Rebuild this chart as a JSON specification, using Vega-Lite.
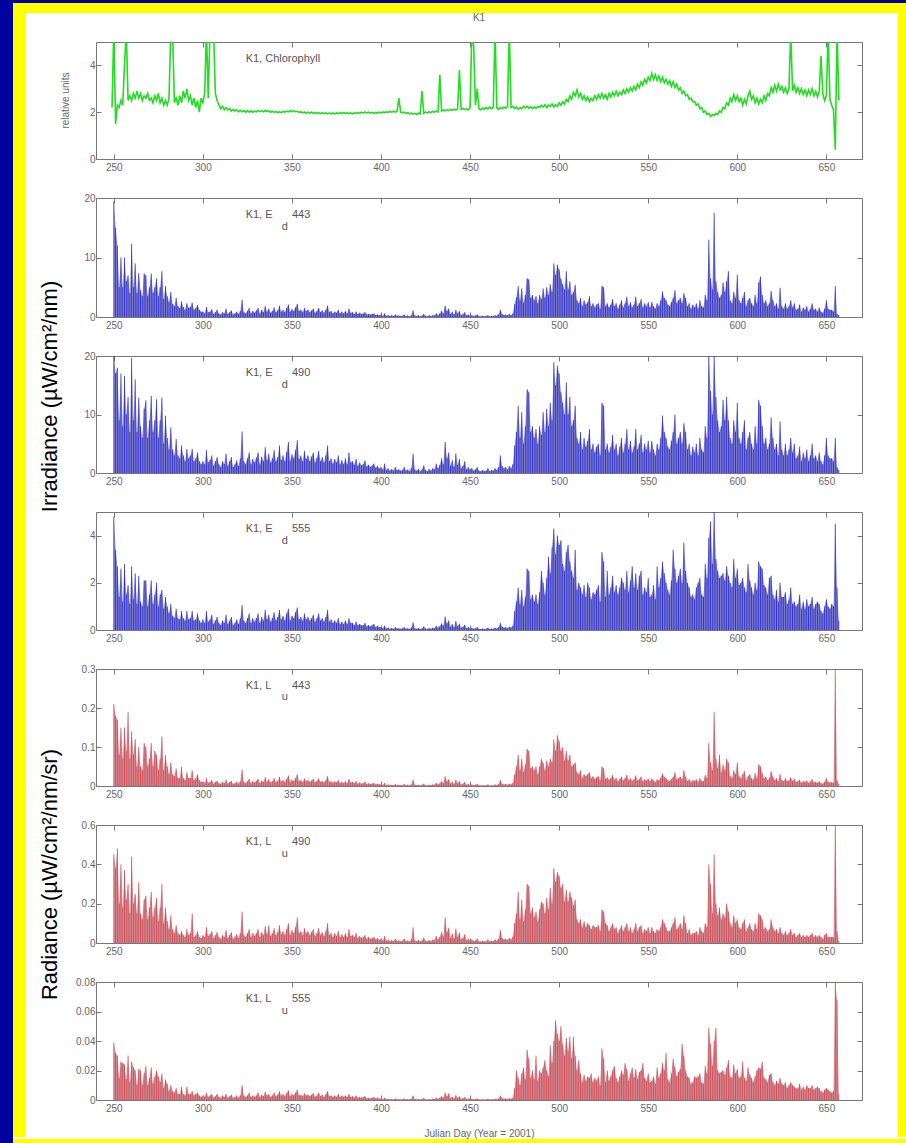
{
"$schema":"https://vega.github.io/schema/vega-lite/v6.json",
"background":"#ffffff",
"padding":0,
"config":{
 "font":"Liberation Sans",
 "view":{"stroke":"#777","strokeWidth":1},
 "axis":{"domain":false,"grid":false,"tickSize":-5,"tickColor":"#777","tickWidth":1,"labelColor":"#666","labelFontSize":10,"labelFont":"Liberation Sans","titleFont":"Liberation Sans","titleFontWeight":"normal"},
 "axisX":{"labelPadding":8},
 "axisY":{"labelPadding":6}
},
"datasets":{
"ir":[
{"d":250,"a":19.4,"b":20,"c":4.8,"e":0.21,"f":0.45,"g":0.039},
{"d":251,"a":15,"b":17,"c":3.4,"e":0.18,"f":0.38,"g":0.032},
{"d":252,"a":12,"b":18,"c":2.7,"e":0.17,"f":0.48,"g":0.03},
{"d":253,"a":5,"b":9,"c":1.4,"e":0.08,"f":0.2,"g":0.015},
{"d":254,"a":10,"b":17,"c":2.6,"e":0.15,"f":0.4,"g":0.026},
{"d":255,"a":5,"b":8,"c":1.2,"e":0.07,"f":0.18,"g":0.025},
{"d":256,"a":10,"b":16.6,"c":2.8,"e":0.15,"f":0.37,"g":0.024},
{"d":257,"a":6,"b":10,"c":1.5,"e":0.09,"f":0.22,"g":0.014},
{"d":258,"a":7,"b":13,"c":1.9,"e":0.19,"f":0.3,"g":0.03},
{"d":259,"a":4,"b":7,"c":1.1,"e":0.07,"f":0.15,"g":0.012},
{"d":260,"a":12.3,"b":19.7,"c":2.7,"e":0.14,"f":0.44,"g":0.026},
{"d":261,"a":5,"b":9,"c":1.3,"e":0.08,"f":0.2,"g":0.022},
{"d":262,"a":9,"b":16,"c":2.4,"e":0.12,"f":0.25,"g":0.02},
{"d":263,"a":4,"b":7,"c":1.1,"e":0.05,"f":0.15,"g":0.01},
{"d":264,"a":7.4,"b":12.9,"c":2.3,"e":0.1,"f":0.31,"g":0.021},
{"d":265,"a":4.5,"b":8,"c":1.2,"e":0.05,"f":0.15,"g":0.02},
{"d":266,"a":3.5,"b":6,"c":1,"e":0.04,"f":0.12,"g":0.01},
{"d":267,"a":7.3,"b":11,"c":2.1,"e":0.11,"f":0.22,"g":0.018},
{"d":268,"a":7,"b":12.4,"c":2.1,"e":0.1,"f":0.24,"g":0.023},
{"d":269,"a":3.5,"b":6,"c":1,"e":0.05,"f":0.12,"g":0.01},
{"d":270,"a":5,"b":9,"c":1.5,"e":0.07,"f":0.18,"g":0.015},
{"d":271,"a":7.3,"b":13.2,"c":2.1,"e":0.11,"f":0.26,"g":0.022},
{"d":272,"a":4,"b":7,"c":1.1,"e":0.05,"f":0.13,"g":0.011},
{"d":273,"a":5,"b":9,"c":1.5,"e":0.09,"f":0.18,"g":0.016},
{"d":274,"a":6.5,"b":12.6,"c":2,"e":0.08,"f":0.23,"g":0.02},
{"d":275,"a":3.5,"b":6,"c":1,"e":0.04,"f":0.11,"g":0.016},
{"d":276,"a":5,"b":9,"c":1.5,"e":0.07,"f":0.18,"g":0.012},
{"d":277,"a":7.7,"b":12.9,"c":1.7,"e":0.127,"f":0.3,"g":0.018},
{"d":278,"a":3,"b":5,"c":0.9,"e":0.04,"f":0.1,"g":0.008},
{"d":279,"a":5.2,"b":9.8,"c":1.4,"e":0.08,"f":0.18,"g":0.014},
{"d":280,"a":3.5,"b":6,"c":1,"e":0.05,"f":0.11,"g":0.011},
{"d":281,"a":2.5,"b":4,"c":0.7,"e":0.03,"f":0.07,"g":0.006},
{"d":282,"a":4.2,"b":7.8,"c":1.1,"e":0.06,"f":0.14,"g":0.01},
{"d":283,"a":2.2,"b":4,"c":0.6,"e":0.03,"f":0.07,"g":0.006},
{"d":284,"a":1.8,"b":3,"c":0.5,"e":0.025,"f":0.05,"g":0.005},
{"d":285,"a":3.2,"b":5.8,"c":0.9,"e":0.045,"f":0.09,"g":0.008},
{"d":286,"a":1.8,"b":3,"c":0.5,"e":0.02,"f":0.05,"g":0.004},
{"d":287,"a":1.5,"b":2.5,"c":0.45,"e":0.02,"f":0.04,"g":0.004},
{"d":288,"a":2.6,"b":4.7,"c":0.8,"e":0.05,"f":0.06,"g":0.009},
{"d":289,"a":1.7,"b":3,"c":0.5,"e":0.02,"f":0.04,"g":0.004},
{"d":290,"a":1.2,"b":2,"c":0.4,"e":0.015,"f":0.03,"g":0.003},
{"d":291,"a":2.3,"b":4.1,"c":0.8,"e":0.035,"f":0.07,"g":0.009},
{"d":292,"a":1.5,"b":2.5,"c":0.45,"e":0.02,"f":0.04,"g":0.004},
{"d":293,"a":1.7,"b":3,"c":0.5,"e":0.02,"f":0.05,"g":0.004},
{"d":294,"a":2.4,"b":4.1,"c":0.8,"e":0.04,"f":0.15,"g":0.006},
{"d":295,"a":1.2,"b":2,"c":0.4,"e":0.015,"f":0.03,"g":0.003},
{"d":296,"a":1.5,"b":2.5,"c":0.45,"e":0.02,"f":0.04,"g":0.004},
{"d":297,"a":2,"b":3.5,"c":0.7,"e":0.03,"f":0.06,"g":0.005},
{"d":298,"a":1.2,"b":2,"c":0.4,"e":0.015,"f":0.03,"g":0.003},
{"d":299,"a":0.9,"b":1.5,"c":0.3,"e":0.01,"f":0.025,"g":0.002},
{"d":300,"a":0.9,"b":2,"c":0.45,"e":0.01,"f":0.04,"g":0.003},
{"d":301,"a":0.6,"b":1.5,"c":0.3,"e":0.007,"f":0.03,"g":0.002},
{"d":302,"a":1.7,"b":3.9,"c":0.8,"e":0.02,"f":0.08,"g":0.005},
{"d":303,"a":0.8,"b":1.8,"c":0.35,"e":0.008,"f":0.035,"g":0.002},
{"d":304,"a":0.9,"b":2.2,"c":0.45,"e":0.01,"f":0.045,"g":0.003},
{"d":305,"a":1.3,"b":3,"c":0.65,"e":0.015,"f":0.06,"g":0.004},
{"d":306,"a":0.5,"b":1.2,"c":0.25,"e":0.006,"f":0.025,"g":0.0015},
{"d":307,"a":0.8,"b":2,"c":0.4,"e":0.01,"f":0.04,"g":0.0025},
{"d":308,"a":1.2,"b":2.7,"c":0.55,"e":0.013,"f":0.055,"g":0.004},
{"d":309,"a":0.6,"b":1.5,"c":0.3,"e":0.007,"f":0.03,"g":0.002},
{"d":310,"a":0.4,"b":1,"c":0.2,"e":0.005,"f":0.02,"g":0.0015},
{"d":311,"a":0.8,"b":2,"c":0.4,"e":0.01,"f":0.04,"g":0.003},
{"d":312,"a":0.6,"b":1.5,"c":0.3,"e":0.007,"f":0.03,"g":0.002},
{"d":313,"a":1.4,"b":3.3,"c":0.65,"e":0.016,"f":0.065,"g":0.004},
{"d":314,"a":0.5,"b":1.2,"c":0.25,"e":0.006,"f":0.025,"g":0.0015},
{"d":315,"a":0.8,"b":2,"c":0.4,"e":0.01,"f":0.04,"g":0.0025},
{"d":316,"a":1.1,"b":2.7,"c":0.55,"e":0.013,"f":0.055,"g":0.0035},
{"d":317,"a":0.4,"b":1,"c":0.2,"e":0.005,"f":0.02,"g":0.0015},
{"d":318,"a":0.6,"b":1.5,"c":0.3,"e":0.007,"f":0.03,"g":0.002},
{"d":319,"a":0.9,"b":2.2,"c":0.45,"e":0.011,"f":0.045,"g":0.003},
{"d":320,"a":0.5,"b":1.2,"c":0.25,"e":0.006,"f":0.025,"g":0.0015},
{"d":321,"a":1,"b":2.5,"c":0.5,"e":0.012,"f":0.05,"g":0.003},
{"d":322,"a":2.9,"b":7.1,"c":1.05,"e":0.042,"f":0.16,"g":0.01},
{"d":323,"a":0.8,"b":2,"c":0.4,"e":0.01,"f":0.04,"g":0.003},
{"d":324,"a":0.6,"b":1.5,"c":0.3,"e":0.007,"f":0.03,"g":0.002},
{"d":325,"a":1,"b":2.5,"c":0.5,"e":0.012,"f":0.05,"g":0.003},
{"d":326,"a":1.5,"b":3.5,"c":0.7,"e":0.018,"f":0.07,"g":0.005},
{"d":327,"a":0.6,"b":1.5,"c":0.3,"e":0.007,"f":0.03,"g":0.002},
{"d":328,"a":1,"b":2.4,"c":0.5,"e":0.012,"f":0.05,"g":0.003},
{"d":329,"a":0.7,"b":1.8,"c":0.35,"e":0.009,"f":0.035,"g":0.002},
{"d":330,"a":1.1,"b":2.6,"c":0.5,"e":0.013,"f":0.05,"g":0.003},
{"d":331,"a":1.5,"b":3.5,"c":0.7,"e":0.018,"f":0.07,"g":0.005},
{"d":332,"a":0.6,"b":1.5,"c":0.3,"e":0.007,"f":0.03,"g":0.002},
{"d":333,"a":1.2,"b":2.8,"c":0.55,"e":0.014,"f":0.055,"g":0.0035},
{"d":334,"a":0.8,"b":2,"c":0.4,"e":0.01,"f":0.04,"g":0.0025},
{"d":335,"a":1.8,"b":4.4,"c":0.85,"e":0.022,"f":0.085,"g":0.0055},
{"d":336,"a":0.9,"b":2.2,"c":0.45,"e":0.011,"f":0.045,"g":0.003},
{"d":337,"a":1.4,"b":3.3,"c":0.65,"e":0.017,"f":0.09,"g":0.004},
{"d":338,"a":0.7,"b":1.8,"c":0.35,"e":0.009,"f":0.035,"g":0.002},
{"d":339,"a":1,"b":2.5,"c":0.5,"e":0.012,"f":0.05,"g":0.003},
{"d":340,"a":1.6,"b":3.9,"c":0.75,"e":0.02,"f":0.075,"g":0.005},
{"d":341,"a":0.8,"b":2,"c":0.4,"e":0.01,"f":0.04,"g":0.0025},
{"d":342,"a":1.1,"b":2.7,"c":0.55,"e":0.013,"f":0.055,"g":0.0035},
{"d":343,"a":1.9,"b":4.7,"c":0.85,"e":0.024,"f":0.09,"g":0.006},
{"d":344,"a":0.9,"b":2.2,"c":0.45,"e":0.011,"f":0.045,"g":0.003},
{"d":345,"a":1.2,"b":3,"c":0.6,"e":0.015,"f":0.06,"g":0.004},
{"d":346,"a":0.8,"b":2,"c":0.4,"e":0.01,"f":0.04,"g":0.0025},
{"d":347,"a":1.5,"b":3.6,"c":0.7,"e":0.018,"f":0.07,"g":0.0045},
{"d":348,"a":2.1,"b":5.3,"c":0.9,"e":0.027,"f":0.1,"g":0.0065},
{"d":349,"a":0.9,"b":2.1,"c":0.4,"e":0.01,"f":0.04,"g":0.0025},
{"d":350,"a":1.3,"b":3.2,"c":0.6,"e":0.016,"f":0.065,"g":0.004},
{"d":351,"a":1,"b":2.5,"c":0.5,"e":0.012,"f":0.05,"g":0.003},
{"d":352,"a":1.6,"b":3.9,"c":0.75,"e":0.02,"f":0.08,"g":0.005},
{"d":353,"a":2.2,"b":5.6,"c":0.95,"e":0.03,"f":0.13,"g":0.007},
{"d":354,"a":1,"b":2.4,"c":0.45,"e":0.012,"f":0.05,"g":0.003},
{"d":355,"a":1.2,"b":3,"c":0.55,"e":0.015,"f":0.06,"g":0.0035},
{"d":356,"a":0.8,"b":2,"c":0.4,"e":0.01,"f":0.04,"g":0.0025},
{"d":357,"a":1.5,"b":3.8,"c":0.7,"e":0.019,"f":0.075,"g":0.0045},
{"d":358,"a":1,"b":2.4,"c":0.45,"e":0.012,"f":0.05,"g":0.003},
{"d":359,"a":1.2,"b":3,"c":0.55,"e":0.015,"f":0.06,"g":0.0035},
{"d":360,"a":0.8,"b":2,"c":0.4,"e":0.01,"f":0.04,"g":0.0025},
{"d":361,"a":1.1,"b":2.8,"c":0.5,"e":0.014,"f":0.055,"g":0.0035},
{"d":362,"a":1.4,"b":3.5,"c":0.65,"e":0.018,"f":0.07,"g":0.0045},
{"d":363,"a":0.7,"b":1.8,"c":0.35,"e":0.009,"f":0.035,"g":0.002},
{"d":364,"a":1,"b":2.6,"c":0.5,"e":0.013,"f":0.05,"g":0.003},
{"d":365,"a":1.5,"b":3.8,"c":0.7,"e":0.019,"f":0.075,"g":0.005},
{"d":366,"a":0.8,"b":2,"c":0.4,"e":0.01,"f":0.04,"g":0.0025},
{"d":367,"a":1.1,"b":2.7,"c":0.5,"e":0.013,"f":0.055,"g":0.0035},
{"d":368,"a":0.7,"b":1.8,"c":0.35,"e":0.009,"f":0.035,"g":0.002},
{"d":369,"a":1.2,"b":3,"c":0.55,"e":0.015,"f":0.06,"g":0.004},
{"d":370,"a":1.9,"b":4.7,"c":0.85,"e":0.025,"f":0.1,"g":0.006},
{"d":371,"a":0.8,"b":2,"c":0.35,"e":0.01,"f":0.04,"g":0.0025},
{"d":372,"a":1,"b":2.5,"c":0.45,"e":0.012,"f":0.05,"g":0.003},
{"d":373,"a":0.6,"b":1.6,"c":0.3,"e":0.008,"f":0.03,"g":0.002},
{"d":374,"a":0.9,"b":2.4,"c":0.4,"e":0.012,"f":0.05,"g":0.003},
{"d":375,"a":0.7,"b":1.8,"c":0.3,"e":0.009,"f":0.035,"g":0.002},
{"d":376,"a":1.2,"b":3,"c":0.5,"e":0.015,"f":0.06,"g":0.004},
{"d":377,"a":0.6,"b":1.5,"c":0.25,"e":0.007,"f":0.03,"g":0.002},
{"d":378,"a":0.9,"b":2.2,"c":0.35,"e":0.011,"f":0.045,"g":0.003},
{"d":379,"a":0.6,"b":1.5,"c":0.25,"e":0.007,"f":0.03,"g":0.002},
{"d":380,"a":1,"b":2.5,"c":0.4,"e":0.012,"f":0.05,"g":0.003},
{"d":381,"a":0.6,"b":1.5,"c":0.25,"e":0.007,"f":0.03,"g":0.002},
{"d":382,"a":1.4,"b":3.5,"c":0.5,"e":0.018,"f":0.07,"g":0.004},
{"d":383,"a":0.7,"b":1.8,"c":0.3,"e":0.009,"f":0.035,"g":0.002},
{"d":384,"a":0.8,"b":2,"c":0.3,"e":0.01,"f":0.04,"g":0.0025},
{"d":385,"a":0.5,"b":1.4,"c":0.2,"e":0.007,"f":0.03,"g":0.0015},
{"d":386,"a":0.9,"b":2.4,"c":0.35,"e":0.012,"f":0.05,"g":0.003},
{"d":387,"a":0.5,"b":1.2,"c":0.2,"e":0.006,"f":0.025,"g":0.0015},
{"d":388,"a":0.7,"b":1.8,"c":0.25,"e":0.009,"f":0.035,"g":0.002},
{"d":389,"a":0.5,"b":1.3,"c":0.2,"e":0.006,"f":0.025,"g":0.0015},
{"d":390,"a":0.6,"b":1.5,"c":0.2,"e":0.007,"f":0.03,"g":0.002},
{"d":391,"a":0.8,"b":2.1,"c":0.3,"e":0.011,"f":0.04,"g":0.0025},
{"d":392,"a":0.4,"b":1.1,"c":0.15,"e":0.005,"f":0.02,"g":0.001},
{"d":393,"a":0.5,"b":1.4,"c":0.2,"e":0.007,"f":0.03,"g":0.0015},
{"d":394,"a":0.4,"b":1,"c":0.15,"e":0.005,"f":0.02,"g":0.001},
{"d":395,"a":0.5,"b":1.3,"c":0.2,"e":0.006,"f":0.025,"g":0.0015},
{"d":396,"a":0.6,"b":1.6,"c":0.25,"e":0.008,"f":0.03,"g":0.002},
{"d":397,"a":0.3,"b":0.9,"c":0.12,"e":0.004,"f":0.018,"g":0.001},
{"d":398,"a":0.4,"b":1.2,"c":0.18,"e":0.006,"f":0.025,"g":0.0015},
{"d":399,"a":0.3,"b":0.8,"c":0.12,"e":0.004,"f":0.015,"g":0.001},
{"d":400,"a":0.4,"b":1,"c":0.12,"e":0.005,"f":0.02,"g":0.001},
{"d":401,"a":0.2,"b":0.6,"c":0.07,"e":0.003,"f":0.013,"g":0.0006},
{"d":402,"a":0.6,"b":1.6,"c":0.18,"e":0.008,"f":0.035,"g":0.0016},
{"d":403,"a":0.2,"b":0.5,"c":0.06,"e":0.002,"f":0.011,"g":0.0005},
{"d":404,"a":0.3,"b":0.8,"c":0.1,"e":0.004,"f":0.017,"g":0.0008},
{"d":405,"a":0.15,"b":0.4,"c":0.05,"e":0.002,"f":0.009,"g":0.0004},
{"d":406,"a":0.3,"b":0.7,"c":0.08,"e":0.003,"f":0.015,"g":0.0007},
{"d":407,"a":0.15,"b":0.4,"c":0.05,"e":0.002,"f":0.009,"g":0.0004},
{"d":408,"a":0.4,"b":1,"c":0.12,"e":0.005,"f":0.022,"g":0.001},
{"d":409,"a":0.2,"b":0.5,"c":0.06,"e":0.002,"f":0.011,"g":0.0005},
{"d":410,"a":0.25,"b":0.6,"c":0.07,"e":0.003,"f":0.013,"g":0.0006},
{"d":411,"a":0.15,"b":0.4,"c":0.05,"e":0.002,"f":0.009,"g":0.0004},
{"d":412,"a":0.2,"b":0.5,"c":0.06,"e":0.002,"f":0.011,"g":0.0005},
{"d":413,"a":0.4,"b":1,"c":0.12,"e":0.005,"f":0.022,"g":0.001},
{"d":414,"a":0.15,"b":0.4,"c":0.05,"e":0.002,"f":0.009,"g":0.0004},
{"d":415,"a":0.25,"b":0.6,"c":0.07,"e":0.003,"f":0.013,"g":0.0006},
{"d":416,"a":0.1,"b":0.3,"c":0.04,"e":0.0015,"f":0.007,"g":0.0003},
{"d":417,"a":0.3,"b":0.8,"c":0.1,"e":0.004,"f":0.018,"g":0.0008},
{"d":418,"a":1.1,"b":3.3,"c":0.32,"e":0.016,"f":0.08,"g":0.003},
{"d":419,"a":0.25,"b":0.6,"c":0.07,"e":0.003,"f":0.013,"g":0.0006},
{"d":420,"a":0.15,"b":0.4,"c":0.05,"e":0.002,"f":0.009,"g":0.0004},
{"d":421,"a":0.3,"b":0.7,"c":0.08,"e":0.003,"f":0.015,"g":0.0007},
{"d":422,"a":0.1,"b":0.3,"c":0.04,"e":0.0015,"f":0.007,"g":0.0003},
{"d":423,"a":0.25,"b":0.6,"c":0.07,"e":0.003,"f":0.013,"g":0.0006},
{"d":424,"a":0.5,"b":1.3,"c":0.15,"e":0.006,"f":0.028,"g":0.0013},
{"d":425,"a":0.2,"b":0.5,"c":0.06,"e":0.002,"f":0.011,"g":0.0005},
{"d":426,"a":0.1,"b":0.3,"c":0.04,"e":0.0015,"f":0.007,"g":0.0003},
{"d":427,"a":0.3,"b":0.7,"c":0.08,"e":0.003,"f":0.015,"g":0.0007},
{"d":428,"a":0.15,"b":0.4,"c":0.05,"e":0.002,"f":0.009,"g":0.0004},
{"d":429,"a":0.3,"b":0.8,"c":0.1,"e":0.004,"f":0.018,"g":0.0008},
{"d":430,"a":0.25,"b":0.6,"c":0.07,"e":0.003,"f":0.013,"g":0.0006},
{"d":431,"a":0.6,"b":1.6,"c":0.18,"e":0.008,"f":0.035,"g":0.0016},
{"d":432,"a":0.3,"b":0.8,"c":0.1,"e":0.004,"f":0.018,"g":0.0008},
{"d":433,"a":0.6,"b":1.4,"c":0.16,"e":0.007,"f":0.03,"g":0.0014},
{"d":434,"a":1,"b":2.5,"c":0.28,"e":0.012,"f":0.055,"g":0.0025},
{"d":435,"a":0.6,"b":1.5,"c":0.18,"e":0.007,"f":0.033,"g":0.0015},
{"d":436,"a":1.9,"b":5.3,"c":0.57,"e":0.025,"f":0.13,"g":0.005},
{"d":437,"a":1,"b":2.5,"c":0.28,"e":0.012,"f":0.055,"g":0.0025},
{"d":438,"a":1.4,"b":3.5,"c":0.4,"e":0.017,"f":0.077,"g":0.0045},
{"d":439,"a":0.5,"b":1.2,"c":0.14,"e":0.006,"f":0.026,"g":0.0012},
{"d":440,"a":0.9,"b":2.2,"c":0.25,"e":0.011,"f":0.048,"g":0.0022},
{"d":441,"a":0.4,"b":1,"c":0.12,"e":0.005,"f":0.022,"g":0.001},
{"d":442,"a":1.2,"b":3.3,"c":0.38,"e":0.016,"f":0.073,"g":0.0033},
{"d":443,"a":0.6,"b":1.4,"c":0.16,"e":0.007,"f":0.031,"g":0.0014},
{"d":444,"a":1,"b":2.4,"c":0.27,"e":0.012,"f":0.053,"g":0.0024},
{"d":445,"a":0.3,"b":0.8,"c":0.1,"e":0.004,"f":0.018,"g":0.0008},
{"d":446,"a":0.5,"b":1.2,"c":0.14,"e":0.006,"f":0.026,"g":0.0012},
{"d":447,"a":0.8,"b":2,"c":0.22,"e":0.01,"f":0.044,"g":0.002},
{"d":448,"a":0.25,"b":0.6,"c":0.07,"e":0.003,"f":0.013,"g":0.0006},
{"d":449,"a":0.4,"b":1,"c":0.12,"e":0.005,"f":0.022,"g":0.001},
{"d":450,"a":0.2,"b":0.5,"c":0.06,"e":0.002,"f":0.011,"g":0.0005},
{"d":451,"a":0.3,"b":0.8,"c":0.1,"e":0.004,"f":0.018,"g":0.0008},
{"d":452,"a":0.15,"b":0.4,"c":0.05,"e":0.002,"f":0.009,"g":0.0004},
{"d":453,"a":0.25,"b":0.6,"c":0.07,"e":0.003,"f":0.013,"g":0.0006},
{"d":454,"a":0.4,"b":1,"c":0.12,"e":0.005,"f":0.022,"g":0.001},
{"d":455,"a":0.15,"b":0.4,"c":0.05,"e":0.002,"f":0.009,"g":0.0004},
{"d":456,"a":0.1,"b":0.3,"c":0.04,"e":0.0015,"f":0.007,"g":0.0003},
{"d":457,"a":0.2,"b":0.5,"c":0.06,"e":0.002,"f":0.011,"g":0.0005},
{"d":458,"a":0.1,"b":0.3,"c":0.04,"e":0.0015,"f":0.007,"g":0.0003},
{"d":459,"a":0.15,"b":0.4,"c":0.05,"e":0.002,"f":0.009,"g":0.0004},
{"d":460,"a":0.3,"b":0.8,"c":0.1,"e":0.004,"f":0.018,"g":0.0008},
{"d":461,"a":0.1,"b":0.3,"c":0.04,"e":0.0015,"f":0.007,"g":0.0003},
{"d":462,"a":0.2,"b":0.5,"c":0.06,"e":0.002,"f":0.011,"g":0.0005},
{"d":463,"a":0.15,"b":0.4,"c":0.05,"e":0.002,"f":0.009,"g":0.0004},
{"d":464,"a":0.3,"b":0.8,"c":0.1,"e":0.004,"f":0.018,"g":0.0008},
{"d":465,"a":0.2,"b":0.5,"c":0.06,"e":0.002,"f":0.011,"g":0.0005},
{"d":466,"a":0.4,"b":1,"c":0.12,"e":0.005,"f":0.022,"g":0.001},
{"d":467,"a":1.2,"b":3,"c":0.3,"e":0.015,"f":0.066,"g":0.003},
{"d":468,"a":0.5,"b":1.2,"c":0.14,"e":0.006,"f":0.026,"g":0.0012},
{"d":469,"a":0.3,"b":0.8,"c":0.1,"e":0.004,"f":0.018,"g":0.0008},
{"d":470,"a":0.4,"b":1,"c":0.12,"e":0.005,"f":0.022,"g":0.001},
{"d":471,"a":0.25,"b":0.6,"c":0.07,"e":0.003,"f":0.013,"g":0.0006},
{"d":472,"a":0.5,"b":1.2,"c":0.14,"e":0.006,"f":0.026,"g":0.0012},
{"d":473,"a":0.3,"b":0.8,"c":0.1,"e":0.004,"f":0.018,"g":0.0008},
{"d":474,"a":0.6,"b":1.5,"c":0.18,"e":0.008,"f":0.033,"g":0.0015},
{"d":475,"a":2.2,"b":4.7,"c":0.8,"e":0.03,"f":0.1,"g":0.008},
{"d":476,"a":3.3,"b":7,"c":1.2,"e":0.05,"f":0.15,"g":0.02},
{"d":477,"a":5.2,"b":11.5,"c":1.8,"e":0.08,"f":0.26,"g":0.015},
{"d":478,"a":2.8,"b":6,"c":1.1,"e":0.04,"f":0.12,"g":0.01},
{"d":479,"a":4.8,"b":10.4,"c":1.7,"e":0.07,"f":0.22,"g":0.018},
{"d":480,"a":2.4,"b":5,"c":1,"e":0.035,"f":0.11,"g":0.022},
{"d":481,"a":3.7,"b":8,"c":1.4,"e":0.055,"f":0.17,"g":0.014},
{"d":482,"a":6.5,"b":14.3,"c":2.6,"e":0.095,"f":0.3,"g":0.034},
{"d":483,"a":6.3,"b":13.8,"c":2.5,"e":0.09,"f":0.29,"g":0.028},
{"d":484,"a":3.2,"b":7,"c":1.3,"e":0.045,"f":0.15,"g":0.015},
{"d":485,"a":3.7,"b":8,"c":1.5,"e":0.05,"f":0.18,"g":0.02},
{"d":486,"a":2.8,"b":6,"c":1.2,"e":0.04,"f":0.13,"g":0.014},
{"d":487,"a":3.5,"b":7.5,"c":1.5,"e":0.05,"f":0.16,"g":0.03},
{"d":488,"a":2.3,"b":5,"c":1.1,"e":0.03,"f":0.11,"g":0.013},
{"d":489,"a":3.7,"b":8,"c":1.6,"e":0.05,"f":0.17,"g":0.02},
{"d":490,"a":3,"b":6.5,"c":2.5,"e":0.07,"f":0.21,"g":0.018},
{"d":491,"a":4.8,"b":10.4,"c":2,"e":0.06,"f":0.2,"g":0.022},
{"d":492,"a":3.2,"b":7,"c":1.5,"e":0.04,"f":0.15,"g":0.027},
{"d":493,"a":5,"b":11,"c":2.2,"e":0.065,"f":0.23,"g":0.02},
{"d":494,"a":3.7,"b":8,"c":3.1,"e":0.05,"f":0.17,"g":0.016},
{"d":495,"a":5.5,"b":12,"c":2.4,"e":0.07,"f":0.28,"g":0.037},
{"d":496,"a":4.2,"b":9,"c":3.5,"e":0.06,"f":0.2,"g":0.025},
{"d":497,"a":9,"b":18.9,"c":4.3,"e":0.12,"f":0.38,"g":0.04},
{"d":498,"a":7,"b":15,"c":3.2,"e":0.09,"f":0.31,"g":0.054},
{"d":499,"a":8.8,"b":18.3,"c":4,"e":0.13,"f":0.36,"g":0.045},
{"d":500,"a":8,"b":17,"c":3.6,"e":0.115,"f":0.34,"g":0.04},
{"d":501,"a":6.4,"b":13.8,"c":3.8,"e":0.09,"f":0.28,"g":0.05},
{"d":502,"a":5.5,"b":12,"c":2.8,"e":0.1,"f":0.3,"g":0.038},
{"d":503,"a":4.6,"b":10,"c":2.5,"e":0.065,"f":0.21,"g":0.03},
{"d":504,"a":7.7,"b":15.5,"c":3.3,"e":0.09,"f":0.27,"g":0.042},
{"d":505,"a":4.6,"b":10,"c":3.6,"e":0.065,"f":0.21,"g":0.033},
{"d":506,"a":6,"b":13,"c":2.9,"e":0.08,"f":0.26,"g":0.043},
{"d":507,"a":3.7,"b":8,"c":2.5,"e":0.05,"f":0.23,"g":0.028},
{"d":508,"a":4.2,"b":9,"c":2.2,"e":0.055,"f":0.19,"g":0.043},
{"d":509,"a":5.4,"b":11.5,"c":3.4,"e":0.06,"f":0.22,"g":0.03},
{"d":510,"a":2.8,"b":6,"c":1.7,"e":0.035,"f":0.12,"g":0.02},
{"d":511,"a":2.3,"b":5,"c":2,"e":0.03,"f":0.1,"g":0.027},
{"d":512,"a":3.2,"b":7,"c":1.8,"e":0.04,"f":0.12,"g":0.018},
{"d":513,"a":1.8,"b":4,"c":1.5,"e":0.02,"f":0.08,"g":0.012},
{"d":514,"a":2.8,"b":6,"c":1.9,"e":0.03,"f":0.11,"g":0.017},
{"d":515,"a":2.1,"b":4.5,"c":1.4,"e":0.025,"f":0.08,"g":0.013},
{"d":516,"a":2.5,"b":5.5,"c":2,"e":0.03,"f":0.1,"g":0.016},
{"d":517,"a":3.5,"b":7.5,"c":1.8,"e":0.035,"f":0.09,"g":0.015},
{"d":518,"a":1.8,"b":4,"c":1.3,"e":0.02,"f":0.07,"g":0.018},
{"d":519,"a":2.3,"b":5,"c":1.6,"e":0.025,"f":0.09,"g":0.012},
{"d":520,"a":1.6,"b":3.5,"c":1.5,"e":0.018,"f":0.08,"g":0.015},
{"d":521,"a":2.1,"b":4.5,"c":1.7,"e":0.022,"f":0.08,"g":0.013},
{"d":522,"a":2.3,"b":5,"c":1.9,"e":0.025,"f":0.09,"g":0.016},
{"d":523,"a":1.4,"b":3,"c":1.2,"e":0.015,"f":0.06,"g":0.01},
{"d":524,"a":5.2,"b":12,"c":3.3,"e":0.05,"f":0.17,"g":0.035},
{"d":525,"a":5,"b":11.5,"c":2.9,"e":0.045,"f":0.16,"g":0.028},
{"d":526,"a":1.8,"b":4,"c":1.4,"e":0.018,"f":0.1,"g":0.012},
{"d":527,"a":2.3,"b":5,"c":2.5,"e":0.022,"f":0.09,"g":0.02},
{"d":528,"a":1.6,"b":3.5,"c":1.5,"e":0.016,"f":0.06,"g":0.013},
{"d":529,"a":2.1,"b":4.5,"c":1.8,"e":0.02,"f":0.08,"g":0.016},
{"d":530,"a":3,"b":6.5,"c":2.3,"e":0.028,"f":0.1,"g":0.02},
{"d":531,"a":1.8,"b":4,"c":1.6,"e":0.016,"f":0.07,"g":0.023},
{"d":532,"a":2.3,"b":5,"c":1.9,"e":0.02,"f":0.08,"g":0.015},
{"d":533,"a":1.4,"b":3,"c":1.5,"e":0.012,"f":0.05,"g":0.012},
{"d":534,"a":2.1,"b":4.5,"c":1.8,"e":0.018,"f":0.07,"g":0.016},
{"d":535,"a":2.8,"b":6,"c":2.2,"e":0.024,"f":0.09,"g":0.02},
{"d":536,"a":1.6,"b":3.5,"c":2,"e":0.014,"f":0.06,"g":0.017},
{"d":537,"a":2.3,"b":5,"c":1.7,"e":0.02,"f":0.08,"g":0.025},
{"d":538,"a":3.4,"b":7.5,"c":2.5,"e":0.028,"f":0.1,"g":0.021},
{"d":539,"a":1.8,"b":4,"c":1.6,"e":0.015,"f":0.06,"g":0.013},
{"d":540,"a":2.5,"b":5.5,"c":2.1,"e":0.02,"f":0.08,"g":0.018},
{"d":541,"a":1.6,"b":3.5,"c":2.7,"e":0.013,"f":0.05,"g":0.022},
{"d":542,"a":2.1,"b":4.5,"c":1.8,"e":0.017,"f":0.07,"g":0.015},
{"d":543,"a":3.4,"b":7.5,"c":2.4,"e":0.027,"f":0.1,"g":0.021},
{"d":544,"a":1.8,"b":4,"c":1.7,"e":0.014,"f":0.06,"g":0.014},
{"d":545,"a":2.3,"b":5,"c":2.3,"e":0.018,"f":0.08,"g":0.019},
{"d":546,"a":3,"b":6.5,"c":2.5,"e":0.024,"f":0.09,"g":0.02},
{"d":547,"a":1.6,"b":3.5,"c":1.5,"e":0.012,"f":0.05,"g":0.025},
{"d":548,"a":2.3,"b":5,"c":1.8,"e":0.017,"f":0.07,"g":0.015},
{"d":549,"a":1.8,"b":4,"c":1.6,"e":0.014,"f":0.06,"g":0.013},
{"d":550,"a":2.5,"b":5.5,"c":2.2,"e":0.019,"f":0.08,"g":0.018},
{"d":551,"a":1.6,"b":3.5,"c":1.4,"e":0.012,"f":0.05,"g":0.012},
{"d":552,"a":2.5,"b":5.5,"c":1.5,"e":0.019,"f":0.08,"g":0.013},
{"d":553,"a":1.8,"b":4,"c":1.9,"e":0.014,"f":0.06,"g":0.016},
{"d":554,"a":1.4,"b":3,"c":1.3,"e":0.01,"f":0.05,"g":0.011},
{"d":555,"a":2.3,"b":5,"c":2.7,"e":0.017,"f":0.07,"g":0.022},
{"d":556,"a":1.8,"b":4,"c":1.8,"e":0.014,"f":0.06,"g":0.015},
{"d":557,"a":2.8,"b":6,"c":2.2,"e":0.021,"f":0.08,"g":0.018},
{"d":558,"a":4.3,"b":9.8,"c":2.9,"e":0.032,"f":0.12,"g":0.025},
{"d":559,"a":3.2,"b":7,"c":2.4,"e":0.023,"f":0.1,"g":0.02},
{"d":560,"a":2.8,"b":6,"c":2,"e":0.02,"f":0.08,"g":0.032},
{"d":561,"a":2.1,"b":4.5,"c":1.7,"e":0.015,"f":0.06,"g":0.014},
{"d":562,"a":1.8,"b":4,"c":1.5,"e":0.013,"f":0.06,"g":0.012},
{"d":563,"a":2.5,"b":5.5,"c":2.1,"e":0.018,"f":0.08,"g":0.018},
{"d":564,"a":3.2,"b":7,"c":3.4,"e":0.023,"f":0.1,"g":0.028},
{"d":565,"a":4.5,"b":10,"c":2.6,"e":0.035,"f":0.13,"g":0.022},
{"d":566,"a":2.3,"b":5,"c":2,"e":0.017,"f":0.07,"g":0.016},
{"d":567,"a":2.8,"b":6,"c":2.3,"e":0.02,"f":0.08,"g":0.019},
{"d":568,"a":3.2,"b":7,"c":2.6,"e":0.024,"f":0.1,"g":0.021},
{"d":569,"a":2.3,"b":5,"c":2,"e":0.017,"f":0.07,"g":0.038},
{"d":570,"a":4,"b":8.5,"c":3.7,"e":0.04,"f":0.14,"g":0.03},
{"d":571,"a":3.2,"b":7,"c":2.5,"e":0.024,"f":0.1,"g":0.02},
{"d":572,"a":1.8,"b":4,"c":2,"e":0.013,"f":0.05,"g":0.016},
{"d":573,"a":2.3,"b":5,"c":1.8,"e":0.017,"f":0.07,"g":0.015},
{"d":574,"a":1.4,"b":3,"c":1.4,"e":0.01,"f":0.04,"g":0.011},
{"d":575,"a":2.1,"b":4.5,"c":1.5,"e":0.015,"f":0.05,"g":0.012},
{"d":576,"a":1.6,"b":3.5,"c":1.3,"e":0.012,"f":0.05,"g":0.016},
{"d":577,"a":2.3,"b":5,"c":1.8,"e":0.017,"f":0.06,"g":0.015},
{"d":578,"a":1.4,"b":3,"c":2,"e":0.01,"f":0.04,"g":0.016},
{"d":579,"a":2.8,"b":6,"c":2.2,"e":0.02,"f":0.08,"g":0.018},
{"d":580,"a":1.8,"b":4,"c":1.5,"e":0.013,"f":0.06,"g":0.012},
{"d":581,"a":1.6,"b":3.5,"c":1.4,"e":0.012,"f":0.05,"g":0.011},
{"d":582,"a":3.7,"b":8,"c":2.8,"e":0.028,"f":0.1,"g":0.023},
{"d":583,"a":2.8,"b":6,"c":2.2,"e":0.02,"f":0.08,"g":0.018},
{"d":584,"a":13,"b":20,"c":3.9,"e":0.11,"f":0.4,"g":0.049},
{"d":585,"a":6.5,"b":14,"c":4.6,"e":0.06,"f":0.3,"g":0.038},
{"d":586,"a":4.6,"b":10,"c":2.8,"e":0.04,"f":0.15,"g":0.023},
{"d":587,"a":17.5,"b":20,"c":5,"e":0.19,"f":0.45,"g":0.04},
{"d":588,"a":6,"b":13,"c":3,"e":0.07,"f":0.2,"g":0.049},
{"d":589,"a":4.2,"b":9,"c":2.5,"e":0.045,"f":0.14,"g":0.02},
{"d":590,"a":3.2,"b":7,"c":2.2,"e":0.08,"f":0.18,"g":0.018},
{"d":591,"a":3.7,"b":8,"c":2.3,"e":0.035,"f":0.12,"g":0.019},
{"d":592,"a":5.8,"b":12.5,"c":2.4,"e":0.055,"f":0.15,"g":0.02},
{"d":593,"a":4.2,"b":9,"c":2.1,"e":0.04,"f":0.13,"g":0.017},
{"d":594,"a":6,"b":13,"c":2.7,"e":0.07,"f":0.2,"g":0.022},
{"d":595,"a":7.7,"b":9,"c":2.3,"e":0.06,"f":0.16,"g":0.027},
{"d":596,"a":2.8,"b":6,"c":2,"e":0.025,"f":0.1,"g":0.016},
{"d":597,"a":2.3,"b":5,"c":1.8,"e":0.02,"f":0.08,"g":0.015},
{"d":598,"a":4.2,"b":9,"c":3,"e":0.04,"f":0.14,"g":0.024},
{"d":599,"a":3.2,"b":7,"c":2.2,"e":0.03,"f":0.1,"g":0.018},
{"d":600,"a":7.1,"b":12,"c":2.6,"e":0.06,"f":0.12,"g":0.021},
{"d":601,"a":2.8,"b":6,"c":1.9,"e":0.025,"f":0.08,"g":0.015},
{"d":602,"a":2.3,"b":5,"c":2,"e":0.02,"f":0.07,"g":0.016},
{"d":603,"a":3.2,"b":7,"c":2.2,"e":0.03,"f":0.1,"g":0.026},
{"d":604,"a":4.2,"b":9,"c":1.8,"e":0.038,"f":0.12,"g":0.015},
{"d":605,"a":1.8,"b":4,"c":1.6,"e":0.015,"f":0.06,"g":0.013},
{"d":606,"a":2.8,"b":6,"c":2.8,"e":0.025,"f":0.08,"g":0.022},
{"d":607,"a":3.2,"b":7,"c":2.1,"e":0.03,"f":0.1,"g":0.017},
{"d":608,"a":2.3,"b":5,"c":1.8,"e":0.02,"f":0.07,"g":0.015},
{"d":609,"a":1.8,"b":4,"c":1.5,"e":0.016,"f":0.06,"g":0.012},
{"d":610,"a":3.7,"b":8,"c":2,"e":0.033,"f":0.1,"g":0.016},
{"d":611,"a":2.3,"b":5,"c":1.7,"e":0.02,"f":0.07,"g":0.02},
{"d":612,"a":5.8,"b":12.5,"c":2.9,"e":0.055,"f":0.15,"g":0.022},
{"d":613,"a":6.8,"b":11.5,"c":2.7,"e":0.05,"f":0.14,"g":0.021},
{"d":614,"a":3.7,"b":8,"c":2.6,"e":0.033,"f":0.12,"g":0.026},
{"d":615,"a":2.3,"b":5,"c":1.9,"e":0.02,"f":0.07,"g":0.015},
{"d":616,"a":2.8,"b":6,"c":1.8,"e":0.024,"f":0.08,"g":0.014},
{"d":617,"a":1.8,"b":4,"c":1.5,"e":0.015,"f":0.06,"g":0.012},
{"d":618,"a":2.3,"b":5,"c":2.2,"e":0.02,"f":0.07,"g":0.017},
{"d":619,"a":4.4,"b":9.5,"c":2.3,"e":0.038,"f":0.12,"g":0.018},
{"d":620,"a":2.8,"b":6,"c":1.5,"e":0.024,"f":0.08,"g":0.012},
{"d":621,"a":1.8,"b":4,"c":1.3,"e":0.015,"f":0.06,"g":0.01},
{"d":622,"a":2.3,"b":5,"c":1.7,"e":0.02,"f":0.07,"g":0.013},
{"d":623,"a":1.4,"b":3,"c":1.2,"e":0.012,"f":0.05,"g":0.011},
{"d":624,"a":4.9,"b":8.8,"c":2,"e":0.03,"f":0.08,"g":0.015},
{"d":625,"a":1.8,"b":4,"c":1.4,"e":0.015,"f":0.05,"g":0.011},
{"d":626,"a":1.4,"b":3,"c":1.4,"e":0.012,"f":0.04,"g":0.01},
{"d":627,"a":2.3,"b":5,"c":1.6,"e":0.02,"f":0.06,"g":0.012},
{"d":628,"a":1.4,"b":3,"c":1.1,"e":0.012,"f":0.04,"g":0.008},
{"d":629,"a":1.8,"b":4,"c":1.3,"e":0.015,"f":0.05,"g":0.01},
{"d":630,"a":2.8,"b":6,"c":1.8,"e":0.022,"f":0.07,"g":0.012},
{"d":631,"a":1.6,"b":3.5,"c":1.1,"e":0.013,"f":0.04,"g":0.01},
{"d":632,"a":2.3,"b":5,"c":1.2,"e":0.018,"f":0.05,"g":0.009},
{"d":633,"a":1.2,"b":2.5,"c":1,"e":0.01,"f":0.03,"g":0.008},
{"d":634,"a":1.4,"b":3,"c":1.1,"e":0.012,"f":0.04,"g":0.008},
{"d":635,"a":2.1,"b":4.5,"c":1.5,"e":0.016,"f":0.05,"g":0.011},
{"d":636,"a":0.9,"b":2,"c":0.9,"e":0.008,"f":0.03,"g":0.007},
{"d":637,"a":1.6,"b":3.5,"c":1.2,"e":0.013,"f":0.04,"g":0.009},
{"d":638,"a":1.2,"b":2.5,"c":0.9,"e":0.01,"f":0.03,"g":0.007},
{"d":639,"a":1.8,"b":4,"c":1.3,"e":0.014,"f":0.04,"g":0.01},
{"d":640,"a":0.9,"b":2,"c":1,"e":0.008,"f":0.03,"g":0.008},
{"d":641,"a":1.4,"b":3,"c":1.1,"e":0.011,"f":0.04,"g":0.008},
{"d":642,"a":2.3,"b":5,"c":1.4,"e":0.017,"f":0.05,"g":0.01},
{"d":643,"a":1.2,"b":2.5,"c":0.9,"e":0.009,"f":0.03,"g":0.007},
{"d":644,"a":1.4,"b":3,"c":1.1,"e":0.011,"f":0.04,"g":0.008},
{"d":645,"a":0.9,"b":2,"c":1.2,"e":0.008,"f":0.03,"g":0.009},
{"d":646,"a":1.6,"b":3.5,"c":1.1,"e":0.012,"f":0.04,"g":0.008},
{"d":647,"a":0.9,"b":2,"c":0.8,"e":0.007,"f":0.03,"g":0.006},
{"d":648,"a":0.7,"b":1.5,"c":0.7,"e":0.006,"f":0.02,"g":0.005},
{"d":649,"a":1.4,"b":3,"c":1,"e":0.011,"f":0.04,"g":0.007},
{"d":650,"a":2.8,"b":6,"c":1.3,"e":0.02,"f":0.05,"g":0.008},
{"d":651,"a":1.4,"b":3,"c":1,"e":0.01,"f":0.03,"g":0.007},
{"d":652,"a":1.2,"b":2.5,"c":0.9,"e":0.009,"f":0.03,"g":0.006},
{"d":653,"a":1.2,"b":2.5,"c":1.1,"e":0.01,"f":0.03,"g":0.005},
{"d":654,"a":0.9,"b":2,"c":1,"e":0.008,"f":0.03,"g":0.006},
{"d":655,"a":5.2,"b":6,"c":4.5,"e":0.3,"f":0.6,"g":0.08},
{"d":656,"a":0.5,"b":1,"c":1.8,"e":0.015,"f":0.06,"g":0.068},
{"d":657,"a":0.3,"b":0.5,"c":0.4,"e":0.005,"f":0.01,"g":0.004}
],
"chl":[
{"d":249,"k":2.2},{"d":250,"k":5.5},{"d":251,"k":1.5},{"d":252,"k":2.3},{"d":253,"k":2.2},{"d":254,"k":2.5},{"d":255,"k":2.3},{"d":256,"k":4.0},{"d":257,"k":5.5},{"d":258,"k":2.5},{"d":259,"k":2.7},
{"d":260,"k":2.5},{"d":261,"k":2.8},{"d":262,"k":2.6},{"d":263,"k":2.9},{"d":264,"k":2.6},{"d":265,"k":2.8},{"d":266,"k":2.5},{"d":267,"k":2.7},{"d":268,"k":2.6},{"d":269,"k":2.8},
{"d":270,"k":2.5},{"d":271,"k":2.6},{"d":272,"k":2.4},{"d":273,"k":2.7},{"d":274,"k":2.5},{"d":275,"k":2.8},{"d":276,"k":2.4},{"d":277,"k":2.6},{"d":278,"k":2.3},{"d":279,"k":2.5},
{"d":280,"k":2.3},{"d":281,"k":2.6},{"d":282,"k":5.5},{"d":283,"k":5.5},{"d":284,"k":2.4},{"d":285,"k":2.6},{"d":286,"k":2.3},{"d":287,"k":2.7},{"d":288,"k":2.4},{"d":289,"k":2.9},
{"d":290,"k":2.6},{"d":291,"k":3.0},{"d":292,"k":2.5},{"d":293,"k":2.7},{"d":294,"k":2.3},{"d":295,"k":2.6},{"d":296,"k":2.2},{"d":297,"k":2.5},{"d":298,"k":2.0},{"d":299,"k":2.6},
{"d":300,"k":2.4},{"d":301,"k":2.8},{"d":302,"k":5.5},{"d":303,"k":2.6},{"d":304,"k":5.5},{"d":305,"k":5.5},{"d":306,"k":5.5},{"d":307,"k":2.8},{"d":308,"k":2.5},{"d":309,"k":2.3},
{"d":310,"k":2.15},{"d":311,"k":2.25},{"d":312,"k":2.1},{"d":313,"k":2.2},{"d":314,"k":2.1},{"d":315,"k":2.15},{"d":316,"k":2.05},{"d":317,"k":2.12},{"d":318,"k":2.05},{"d":319,"k":2.1},
{"d":320,"k":2.02},{"d":321,"k":2.08},{"d":322,"k":2.02},{"d":323,"k":2.07},{"d":324,"k":2.0},{"d":325,"k":2.06},{"d":326,"k":2.01},{"d":327,"k":2.05},{"d":328,"k":2.0},{"d":329,"k":2.05},
{"d":330,"k":2.02},{"d":331,"k":2.07},{"d":332,"k":2.03},{"d":333,"k":2.06},{"d":334,"k":2.02},{"d":335,"k":2.08},{"d":336,"k":2.03},{"d":337,"k":2.06},{"d":338,"k":2.0},{"d":339,"k":2.04},
{"d":340,"k":1.99},{"d":341,"k":2.03},{"d":342,"k":1.98},{"d":343,"k":2.02},{"d":344,"k":1.98},{"d":345,"k":2.03},{"d":346,"k":2.0},{"d":347,"k":2.05},{"d":348,"k":2.02},{"d":349,"k":2.07},
{"d":350,"k":2.03},{"d":351,"k":2.06},{"d":352,"k":2.02},{"d":353,"k":2.04},{"d":354,"k":1.99},{"d":355,"k":2.02},{"d":356,"k":1.97},{"d":357,"k":2.01},{"d":358,"k":1.96},{"d":359,"k":2.0},
{"d":360,"k":1.96},{"d":361,"k":2.0},{"d":362,"k":1.95},{"d":363,"k":1.99},{"d":364,"k":1.95},{"d":365,"k":1.98},{"d":366,"k":1.94},{"d":367,"k":1.98},{"d":368,"k":1.94},{"d":369,"k":1.97},
{"d":370,"k":1.93},{"d":371,"k":1.97},{"d":372,"k":1.93},{"d":373,"k":1.96},{"d":374,"k":1.93},{"d":375,"k":1.97},{"d":376,"k":1.94},{"d":377,"k":1.98},{"d":378,"k":1.95},{"d":379,"k":1.99},
{"d":380,"k":1.95},{"d":381,"k":1.98},{"d":382,"k":1.94},{"d":383,"k":1.97},{"d":384,"k":1.93},{"d":385,"k":1.97},{"d":386,"k":1.95},{"d":387,"k":1.99},{"d":388,"k":1.96},{"d":389,"k":2.0},
{"d":390,"k":1.97},{"d":391,"k":2.01},{"d":392,"k":1.97},{"d":393,"k":2.0},{"d":394,"k":1.96},{"d":395,"k":1.99},{"d":396,"k":1.95},{"d":397,"k":1.99},{"d":398,"k":1.96},{"d":399,"k":2.0},
{"d":400,"k":1.97},{"d":401,"k":2.01},{"d":402,"k":1.98},{"d":403,"k":2.02},{"d":404,"k":1.99},{"d":405,"k":2.03},{"d":406,"k":2.0},{"d":407,"k":2.04},{"d":408,"k":2.0},{"d":409,"k":2.03},
{"d":410,"k":2.6},{"d":411,"k":2.01},{"d":412,"k":1.97},{"d":413,"k":2.0},{"d":414,"k":1.95},{"d":415,"k":1.98},{"d":416,"k":1.93},{"d":417,"k":1.96},{"d":418,"k":1.92},{"d":419,"k":1.95},
{"d":420,"k":1.9},{"d":421,"k":1.96},{"d":422,"k":1.93},{"d":423,"k":2.9},{"d":424,"k":1.95},{"d":425,"k":2.0},{"d":426,"k":1.97},{"d":427,"k":2.02},{"d":428,"k":1.98},{"d":429,"k":2.04},
{"d":430,"k":2.0},{"d":431,"k":2.05},{"d":432,"k":2.02},{"d":433,"k":3.6},{"d":434,"k":2.05},{"d":435,"k":2.1},{"d":436,"k":2.06},{"d":437,"k":2.1},{"d":438,"k":2.07},{"d":439,"k":2.12},
{"d":440,"k":2.08},{"d":441,"k":2.13},{"d":442,"k":2.09},{"d":443,"k":2.14},{"d":444,"k":3.8},{"d":445,"k":2.12},{"d":446,"k":2.16},{"d":447,"k":2.11},{"d":448,"k":2.15},{"d":449,"k":2.1},
{"d":450,"k":2.2},{"d":451,"k":5.5},{"d":452,"k":4.8},{"d":453,"k":2.3},{"d":454,"k":3.0},{"d":455,"k":2.15},{"d":456,"k":2.1},{"d":457,"k":2.18},{"d":458,"k":2.12},{"d":459,"k":2.2},
{"d":460,"k":2.14},{"d":461,"k":2.22},{"d":462,"k":2.15},{"d":463,"k":2.2},{"d":464,"k":5.5},{"d":465,"k":2.18},{"d":466,"k":2.12},{"d":467,"k":2.2},{"d":468,"k":2.15},{"d":469,"k":2.22},
{"d":470,"k":2.17},{"d":471,"k":2.24},{"d":472,"k":5.5},{"d":473,"k":2.2},{"d":474,"k":2.25},{"d":475,"k":2.15},{"d":476,"k":2.22},{"d":477,"k":2.12},{"d":478,"k":2.2},{"d":479,"k":2.15},
{"d":480,"k":2.25},{"d":481,"k":2.18},{"d":482,"k":2.26},{"d":483,"k":2.17},{"d":484,"k":2.24},{"d":485,"k":2.15},{"d":486,"k":2.22},{"d":487,"k":2.16},{"d":488,"k":2.25},{"d":489,"k":2.2},
{"d":490,"k":2.3},{"d":491,"k":2.22},{"d":492,"k":2.32},{"d":493,"k":2.2},{"d":494,"k":2.3},{"d":495,"k":2.25},{"d":496,"k":2.35},{"d":497,"k":2.22},{"d":498,"k":2.32},{"d":499,"k":2.25},
{"d":500,"k":2.4},{"d":501,"k":2.3},{"d":502,"k":2.45},{"d":503,"k":2.35},{"d":504,"k":2.55},{"d":505,"k":2.45},{"d":506,"k":2.7},{"d":507,"k":2.55},{"d":508,"k":2.85},{"d":509,"k":2.7},
{"d":510,"k":2.95},{"d":511,"k":2.65},{"d":512,"k":2.8},{"d":513,"k":2.55},{"d":514,"k":2.7},{"d":515,"k":2.5},{"d":516,"k":2.65},{"d":517,"k":2.45},{"d":518,"k":2.6},{"d":519,"k":2.5},
{"d":520,"k":2.7},{"d":521,"k":2.55},{"d":522,"k":2.75},{"d":523,"k":2.6},{"d":524,"k":2.8},{"d":525,"k":2.6},{"d":526,"k":2.75},{"d":527,"k":2.55},{"d":528,"k":2.8},{"d":529,"k":2.65},
{"d":530,"k":2.85},{"d":531,"k":2.7},{"d":532,"k":2.9},{"d":533,"k":2.7},{"d":534,"k":2.85},{"d":535,"k":2.75},{"d":536,"k":2.95},{"d":537,"k":2.8},{"d":538,"k":3.0},{"d":539,"k":2.85},
{"d":540,"k":3.05},{"d":541,"k":2.9},{"d":542,"k":3.1},{"d":543,"k":2.95},{"d":544,"k":3.2},{"d":545,"k":3.05},{"d":546,"k":3.3},{"d":547,"k":3.15},{"d":548,"k":3.4},{"d":549,"k":3.25},
{"d":550,"k":3.5},{"d":551,"k":3.35},{"d":552,"k":3.65},{"d":553,"k":3.4},{"d":554,"k":3.6},{"d":555,"k":3.35},{"d":556,"k":3.55},{"d":557,"k":3.3},{"d":558,"k":3.5},{"d":559,"k":3.25},
{"d":560,"k":3.4},{"d":561,"k":3.2},{"d":562,"k":3.35},{"d":563,"k":3.1},{"d":564,"k":3.3},{"d":565,"k":3.05},{"d":566,"k":3.2},{"d":567,"k":2.95},{"d":568,"k":3.05},{"d":569,"k":2.8},
{"d":570,"k":2.9},{"d":571,"k":2.7},{"d":572,"k":2.75},{"d":573,"k":2.55},{"d":574,"k":2.6},{"d":575,"k":2.45},{"d":576,"k":2.45},{"d":577,"k":2.3},{"d":578,"k":2.35},{"d":579,"k":2.15},
{"d":580,"k":2.2},{"d":581,"k":2.0},{"d":582,"k":2.05},{"d":583,"k":1.9},{"d":584,"k":1.95},{"d":585,"k":1.82},{"d":586,"k":1.9},{"d":587,"k":1.85},{"d":588,"k":1.95},{"d":589,"k":1.9},
{"d":590,"k":2.05},{"d":591,"k":2.0},{"d":592,"k":2.2},{"d":593,"k":2.15},{"d":594,"k":2.4},{"d":595,"k":2.3},{"d":596,"k":2.6},{"d":597,"k":2.45},{"d":598,"k":2.75},{"d":599,"k":2.5},
{"d":600,"k":2.7},{"d":601,"k":2.45},{"d":602,"k":2.6},{"d":603,"k":2.3},{"d":604,"k":2.55},{"d":605,"k":2.35},{"d":606,"k":2.7},{"d":607,"k":2.9},{"d":608,"k":2.55},{"d":609,"k":2.7},
{"d":610,"k":2.4},{"d":611,"k":2.6},{"d":612,"k":2.35},{"d":613,"k":2.55},{"d":614,"k":2.4},{"d":615,"k":2.7},{"d":616,"k":2.5},{"d":617,"k":2.8},{"d":618,"k":2.7},{"d":619,"k":3.05},
{"d":620,"k":2.85},{"d":621,"k":3.15},{"d":622,"k":2.9},{"d":623,"k":3.2},{"d":624,"k":2.95},{"d":625,"k":3.1},{"d":626,"k":2.85},{"d":627,"k":3.05},{"d":628,"k":2.8},{"d":629,"k":3.0},
{"d":630,"k":5.5},{"d":631,"k":2.9},{"d":632,"k":3.15},{"d":633,"k":2.85},{"d":634,"k":3.05},{"d":635,"k":2.8},{"d":636,"k":3.0},{"d":637,"k":2.75},{"d":638,"k":2.95},{"d":639,"k":2.7},
{"d":640,"k":2.95},{"d":641,"k":2.75},{"d":642,"k":3.0},{"d":643,"k":2.7},{"d":644,"k":2.9},{"d":645,"k":2.65},{"d":646,"k":2.9},{"d":647,"k":4.4},{"d":648,"k":2.8},{"d":649,"k":2.5},
{"d":650,"k":2.7},{"d":651,"k":5.5},{"d":652,"k":2.55},{"d":653,"k":2.3},{"d":654,"k":2.1},{"d":655,"k":0.4},{"d":656,"k":5.5},{"d":657,"k":2.5}
]
},
"spacing":0,
"vconcat":[
 {"width":906,"height":3,"view":{"fill":"#00009c","stroke":null},"data":{"values":[{"v":0}]},"mark":{"type":"text","text":"","fontSize":0.5},"encoding":{}},
 {"spacing":0,"hconcat":[
  {"width":13,"height":1140,"view":{"fill":"#00009c","stroke":null},"data":{"values":[{"v":0}]},"mark":{"type":"text","text":"","fontSize":0.5},"encoding":{}},
  {"spacing":0,"vconcat":[
   {"width":893,"height":10,"view":{"fill":"#ffff00","stroke":null},"data":{"values":[{"v":0}]},"mark":{"type":"text","text":"","fontSize":0.5},"encoding":{}},
   {"spacing":0,"hconcat":[
    {"width":13,"height":1124,"view":{"fill":"#ffff00","stroke":null},"data":{"values":[{"v":0}]},"mark":{"type":"text","text":"","fontSize":0.5},"encoding":{}},
    {"width":11,"height":1,"view":{"stroke":null},"data":{"values":[{"v":0}]},"mark":{"type":"text","text":"","fontSize":0.5},"encoding":{}},
    {"spacing":0,"vconcat":[
     {"width":766,"height":28,"view":{"stroke":null},"data":{"values":[{"t":"K1"}]},
      "mark":{"type":"text","fontSize":10,"color":"#666","font":"Liberation Sans","baseline":"middle","dy":-9},
      "encoding":{"text":{"field":"t","type":"nominal"}}},
     {"bounds":"flush","spacing":39,"vconcat":[
      {"width":766,"height":117,
       "layer":[
        {"data":{"name":"chl"},"mark":{"type":"line","color":"#22dd22","strokeWidth":1.6,"clip":true},
         "encoding":{
          "x":{"field":"d","type":"quantitative","scale":{"domain":[240,670],"nice":false,"zero":false},"axis":{"values":[250,300,350,400,450,500,550,600,650],"title":null,"format":".3~g"}},
          "y":{"field":"k","type":"quantitative","scale":{"domain":[0,5],"nice":false},"axis":{"values":[0,2,4],"format":".3~g","title":"relative units","titleFontSize":10,"titleColor":"#666","titleX":-31,"titleY":58,"titleBaseline":"middle","titleAngle":270}}}},
        {"data":{"values":[{"x":324,"y":4.27,"t":"K1, Chlorophyll"}]},
         "mark":{"type":"text","align":"left","baseline":"middle","fontSize":11,"color":"#555","font":"Liberation Sans"},
         "encoding":{
          "x":{"field":"x","type":"quantitative","scale":{"domain":[240,670],"nice":false,"zero":false},"axis":{"orient":"top","values":[250,300,350,400,450,500,550,600,650],"labels":false,"title":null}},
          "y":{"field":"y","type":"quantitative","scale":{"domain":[0,5],"nice":false},"axis":{"orient":"right","values":[0,2,4],"labels":false,"title":null}},
          "text":{"field":"t","type":"nominal"}}}
       ],
       "resolve":{"axis":{"x":"independent","y":"independent"}}},
      {"width":766,"height":119,"data":{"name":"ir"},
       "layer":[
        {"mark":{"type":"area","color":"#8e8ed2","clip":true},
         "encoding":{
          "x":{"field":"d","type":"quantitative","scale":{"domain":[240,670],"nice":false,"zero":false},"axis":{"values":[250,300,350,400,450,500,550,600,650],"title":null,"format":".3~g"}},
          "y":{"field":"a","type":"quantitative","scale":{"domain":[0,20],"nice":false},"axis":{"values":[0,10,20],"format":".3~g","title":null}}}},
        {"mark":{"type":"rule","color":"#1010c4","strokeWidth":0.7,"clip":true},
         "encoding":{"x":{"field":"d","type":"quantitative","axis":null},"y":{"field":"a","type":"quantitative","axis":null},"y2":{"datum":0}}},
        {"data":{"values":[{"x":324,"y":17.1,"t":"K1, E"},{"x":344.3,"y":15.1,"t":"d"},{"x":350,"y":17.1,"t":"443"}]},
         "mark":{"type":"text","align":"left","baseline":"middle","fontSize":11,"color":"#555","font":"Liberation Sans"},
         "encoding":{
          "x":{"field":"x","type":"quantitative","scale":{"domain":[240,670],"nice":false,"zero":false},"axis":{"orient":"top","values":[250,300,350,400,450,500,550,600,650],"labels":false,"title":null}},
          "y":{"field":"y","type":"quantitative","scale":{"domain":[0,20],"nice":false},"axis":{"orient":"right","values":[0,10,20],"labels":false,"title":null}},
          "text":{"field":"t","type":"nominal"}}}
       ],
       "resolve":{"axis":{"x":"independent","y":"independent"}}},
      {"width":766,"height":117,"data":{"name":"ir"},
       "layer":[
        {"mark":{"type":"area","color":"#8e8ed2","clip":true},
         "encoding":{
          "x":{"field":"d","type":"quantitative","scale":{"domain":[240,670],"nice":false,"zero":false},"axis":{"values":[250,300,350,400,450,500,550,600,650],"title":null,"format":".3~g"}},
          "y":{"field":"b","type":"quantitative","scale":{"domain":[0,20],"nice":false},"axis":{"values":[0,10,20],"format":".3~g","title":"Irradiance (µW/cm²/nm)","titleFontSize":22,"titleColor":"#000","titleX":-47,"titleY":40,"titleBaseline":"middle","titleAngle":270}}}},
        {"mark":{"type":"rule","color":"#1010c4","strokeWidth":0.7,"clip":true},
         "encoding":{"x":{"field":"d","type":"quantitative","axis":null},"y":{"field":"b","type":"quantitative","axis":null},"y2":{"datum":0}}},
        {"data":{"values":[{"x":324,"y":17.1,"t":"K1, E"},{"x":344.3,"y":15.1,"t":"d"},{"x":350,"y":17.1,"t":"490"}]},
         "mark":{"type":"text","align":"left","baseline":"middle","fontSize":11,"color":"#555","font":"Liberation Sans"},
         "encoding":{
          "x":{"field":"x","type":"quantitative","scale":{"domain":[240,670],"nice":false,"zero":false},"axis":{"orient":"top","values":[250,300,350,400,450,500,550,600,650],"labels":false,"title":null}},
          "y":{"field":"y","type":"quantitative","scale":{"domain":[0,20],"nice":false},"axis":{"orient":"right","values":[0,10,20],"labels":false,"title":null}},
          "text":{"field":"t","type":"nominal"}}}
       ],
       "resolve":{"axis":{"x":"independent","y":"independent"}}},
      {"width":766,"height":118,"data":{"name":"ir"},
       "layer":[
        {"mark":{"type":"area","color":"#8e8ed2","clip":true},
         "encoding":{
          "x":{"field":"d","type":"quantitative","scale":{"domain":[240,670],"nice":false,"zero":false},"axis":{"values":[250,300,350,400,450,500,550,600,650],"title":null,"format":".3~g"}},
          "y":{"field":"c","type":"quantitative","scale":{"domain":[0,5],"nice":false},"axis":{"values":[0,2,4],"format":".3~g","title":null}}}},
        {"mark":{"type":"rule","color":"#1010c4","strokeWidth":0.7,"clip":true},
         "encoding":{"x":{"field":"d","type":"quantitative","axis":null},"y":{"field":"c","type":"quantitative","axis":null},"y2":{"datum":0}}},
        {"data":{"values":[{"x":324,"y":4.28,"t":"K1, E"},{"x":344.3,"y":3.78,"t":"d"},{"x":350,"y":4.28,"t":"555"}]},
         "mark":{"type":"text","align":"left","baseline":"middle","fontSize":11,"color":"#555","font":"Liberation Sans"},
         "encoding":{
          "x":{"field":"x","type":"quantitative","scale":{"domain":[240,670],"nice":false,"zero":false},"axis":{"orient":"top","values":[250,300,350,400,450,500,550,600,650],"labels":false,"title":null}},
          "y":{"field":"y","type":"quantitative","scale":{"domain":[0,5],"nice":false},"axis":{"orient":"right","values":[0,2,4],"labels":false,"title":null}},
          "text":{"field":"t","type":"nominal"}}}
       ],
       "resolve":{"axis":{"x":"independent","y":"independent"}}},
      {"width":766,"height":117,"data":{"name":"ir"},
       "layer":[
        {"mark":{"type":"area","color":"#d8979e","clip":true},
         "encoding":{
          "x":{"field":"d","type":"quantitative","scale":{"domain":[240,670],"nice":false,"zero":false},"axis":{"values":[250,300,350,400,450,500,550,600,650],"title":null,"format":".3~g"}},
          "y":{"field":"e","type":"quantitative","scale":{"domain":[0,0.3],"nice":false},"axis":{"values":[0,0.1,0.2,0.3],"format":".3~g","title":null}}}},
        {"mark":{"type":"rule","color":"#c8343f","strokeWidth":0.7,"clip":true},
         "encoding":{"x":{"field":"d","type":"quantitative","axis":null},"y":{"field":"e","type":"quantitative","axis":null},"y2":{"datum":0}}},
        {"data":{"values":[{"x":324,"y":0.257,"t":"K1, L"},{"x":344.3,"y":0.227,"t":"u"},{"x":350,"y":0.257,"t":"443"}]},
         "mark":{"type":"text","align":"left","baseline":"middle","fontSize":11,"color":"#555","font":"Liberation Sans"},
         "encoding":{
          "x":{"field":"x","type":"quantitative","scale":{"domain":[240,670],"nice":false,"zero":false},"axis":{"orient":"top","values":[250,300,350,400,450,500,550,600,650],"labels":false,"title":null}},
          "y":{"field":"y","type":"quantitative","scale":{"domain":[0,0.3],"nice":false},"axis":{"orient":"right","values":[0,0.1,0.2,0.3],"labels":false,"title":null}},
          "text":{"field":"t","type":"nominal"}}}
       ],
       "resolve":{"axis":{"x":"independent","y":"independent"}}},
      {"width":766,"height":118,"data":{"name":"ir"},
       "layer":[
        {"mark":{"type":"area","color":"#d8979e","clip":true},
         "encoding":{
          "x":{"field":"d","type":"quantitative","scale":{"domain":[240,670],"nice":false,"zero":false},"axis":{"values":[250,300,350,400,450,500,550,600,650],"title":null,"format":".3~g"}},
          "y":{"field":"f","type":"quantitative","scale":{"domain":[0,0.6],"nice":false},"axis":{"values":[0,0.2,0.4,0.6],"format":".3~g","title":"Radiance (µW/cm²/nm/sr)","titleFontSize":22,"titleColor":"#000","titleX":-47,"titleY":49,"titleBaseline":"middle","titleAngle":270}}}},
        {"mark":{"type":"rule","color":"#c8343f","strokeWidth":0.7,"clip":true},
         "encoding":{"x":{"field":"d","type":"quantitative","axis":null},"y":{"field":"f","type":"quantitative","axis":null},"y2":{"datum":0}}},
        {"data":{"values":[{"x":324,"y":0.514,"t":"K1, L"},{"x":344.3,"y":0.454,"t":"u"},{"x":350,"y":0.514,"t":"490"}]},
         "mark":{"type":"text","align":"left","baseline":"middle","fontSize":11,"color":"#555","font":"Liberation Sans"},
         "encoding":{
          "x":{"field":"x","type":"quantitative","scale":{"domain":[240,670],"nice":false,"zero":false},"axis":{"orient":"top","values":[250,300,350,400,450,500,550,600,650],"labels":false,"title":null}},
          "y":{"field":"y","type":"quantitative","scale":{"domain":[0,0.6],"nice":false},"axis":{"orient":"right","values":[0,0.2,0.4,0.6],"labels":false,"title":null}},
          "text":{"field":"t","type":"nominal"}}}
       ],
       "resolve":{"axis":{"x":"independent","y":"independent"}}},
      {"width":766,"height":118,"data":{"name":"ir"},
       "layer":[
        {"mark":{"type":"area","color":"#d8979e","clip":true},
         "encoding":{
          "x":{"field":"d","type":"quantitative","scale":{"domain":[240,670],"nice":false,"zero":false},"axis":{"values":[250,300,350,400,450,500,550,600,650],"format":".3~g","title":"Julian Day (Year = 2001)","titleFontSize":10,"titleColor":"#666","titleY":33,"titleBaseline":"middle"}},
          "y":{"field":"g","type":"quantitative","scale":{"domain":[0,0.08],"nice":false},"axis":{"values":[0,0.02,0.04,0.06,0.08],"format":".3~g","title":null}}}},
        {"mark":{"type":"rule","color":"#c8343f","strokeWidth":0.7,"clip":true},
         "encoding":{"x":{"field":"d","type":"quantitative","axis":null},"y":{"field":"g","type":"quantitative","axis":null},"y2":{"datum":0}}},
        {"data":{"values":[{"x":324,"y":0.0686,"t":"K1, L"},{"x":344.3,"y":0.0605,"t":"u"},{"x":350,"y":0.0686,"t":"555"}]},
         "mark":{"type":"text","align":"left","baseline":"middle","fontSize":11,"color":"#555","font":"Liberation Sans"},
         "encoding":{
          "x":{"field":"x","type":"quantitative","scale":{"domain":[240,670],"nice":false,"zero":false},"axis":{"orient":"top","values":[250,300,350,400,450,500,550,600,650],"labels":false,"title":null}},
          "y":{"field":"y","type":"quantitative","scale":{"domain":[0,0.08],"nice":false},"axis":{"orient":"right","values":[0,0.02,0.04,0.06,0.08],"labels":false,"title":null}},
          "text":{"field":"t","type":"nominal"}}}
       ],
       "resolve":{"axis":{"x":"independent","y":"independent"}}}
     ]}
    ]},
    {"width":35,"height":1,"view":{"stroke":null},"data":{"values":[{"v":0}]},"mark":{"type":"text","text":"","fontSize":0.5},"encoding":{}},
    {"width":10,"height":1124,"view":{"fill":"#ffff00","stroke":null},"data":{"values":[{"v":0}]},"mark":{"type":"text","text":"","fontSize":0.5},"encoding":{}}
   ]},
   {"width":893,"height":6,"view":{"fill":"#ffff00","stroke":null},"data":{"values":[{"v":0}]},"mark":{"type":"text","text":"","fontSize":0.5},"encoding":{}}
  ]}
 ]}
]
}
